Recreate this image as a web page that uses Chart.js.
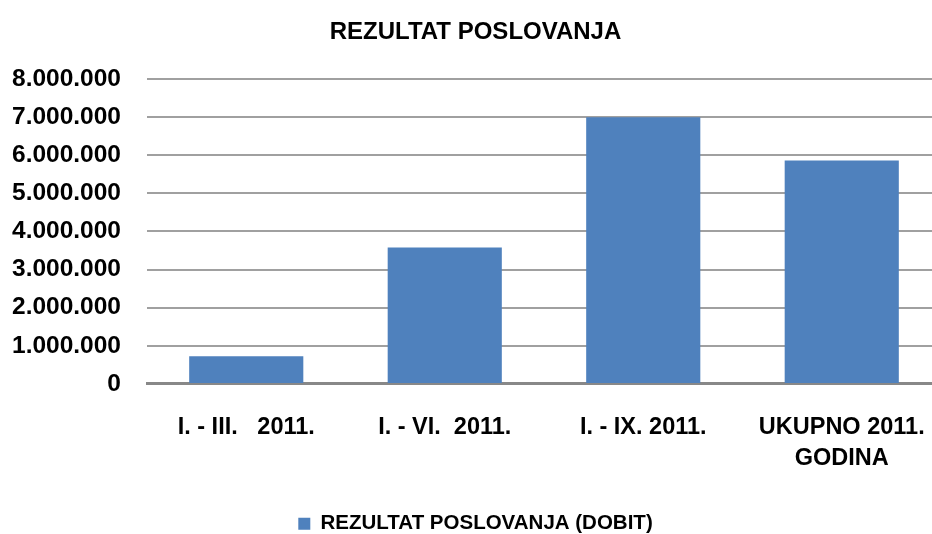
<!DOCTYPE html>
<html>
<head>
<meta charset="utf-8">
<script src="https://cdn.jsdelivr.net/npm/chart.js@4/dist/chart.umd.min.js"></script>
<style>
  html, body { margin: 0; padding: 0; background: #fff; overflow: hidden; }
  /* the original is a cropped Excel chart: the plot runs a little past the right edge */
  #wrap { width: 932px; height: 534px; overflow: hidden; }
</style>
</head>
<body>
<div id="wrap"><canvas id="barChart" width="941" height="534"></canvas></div>
<script>
const periods = ['I. - III.   2011.', 'I. - VI.  2011.', 'I. - IX. 2011.', ['UKUPNO 2011.', 'GODINA']];
const dobit = [730000, 3580000, 6990000, 5860000];
const chartTitle = 'REZULTAT POSLOVANJA';
const seriesName = 'REZULTAT POSLOVANJA (DOBIT)';

const fontFamily = '"Liberation Sans", Arial, sans-serif';
const barColor = '#4f81bd';

function formatThousands(v) {
    return String(v).replace(/\B(?=(\d{3})+(?!\d))/g, '.');
}

const ctx = document.getElementById('barChart').getContext('2d');
new Chart(ctx, {
    type: 'bar',
    data: {
        labels: periods,
        datasets: [{
            label: seriesName,
            data: dobit,
            backgroundColor: barColor,
            borderWidth: 0,
            categoryPercentage: 1,
            barPercentage: 0.575
        }]
    },
    options: {
        responsive: false,
        animation: false,
        layout: { padding: { left: 10, right: 0, top: 18, bottom: -10 } },
        plugins: {
            title: {
                display: true,
                text: chartTitle,
                color: '#000',
                font: { family: fontFamily, size: 24, weight: 'bold' },
                padding: { top: 0, bottom: 32 }
            },
            legend: {
                position: 'bottom',
                labels: {
                    color: '#000',
                    font: { family: fontFamily, size: 20.5, weight: 'bold' },
                    boxWidth: 12,
                    boxHeight: 12,
                    padding: 9
                }
            },
            tooltip: { enabled: false }
        },
        scales: {
            x: {
                grid: { display: false },
                border: { color: '#888', width: 3 },
                afterFit: s => { s.paddingLeft = 0; s.paddingRight = 0; s.height += 10; },
                ticks: {
                    color: '#000',
                    font: { family: fontFamily, size: 23.5, weight: 'bold', lineHeight: 1.33 },
                    padding: 20,
                    maxRotation: 0,
                    autoSkip: false
                }
            },
            y: {
                min: 0,
                max: 8000000,
                border: { display: false },
                grid: { color: '#a0a0a0', lineWidth: 2, drawTicks: false },
                afterFit: s => { s.width = 137; },
                ticks: {
                    stepSize: 1000000,
                    color: '#000',
                    padding: 26,
                    font: { family: fontFamily, size: 24.5, weight: 'bold' },
                    callback: v => formatThousands(v)
                }
            }
        }
    }
});
</script>
</body>
</html>
